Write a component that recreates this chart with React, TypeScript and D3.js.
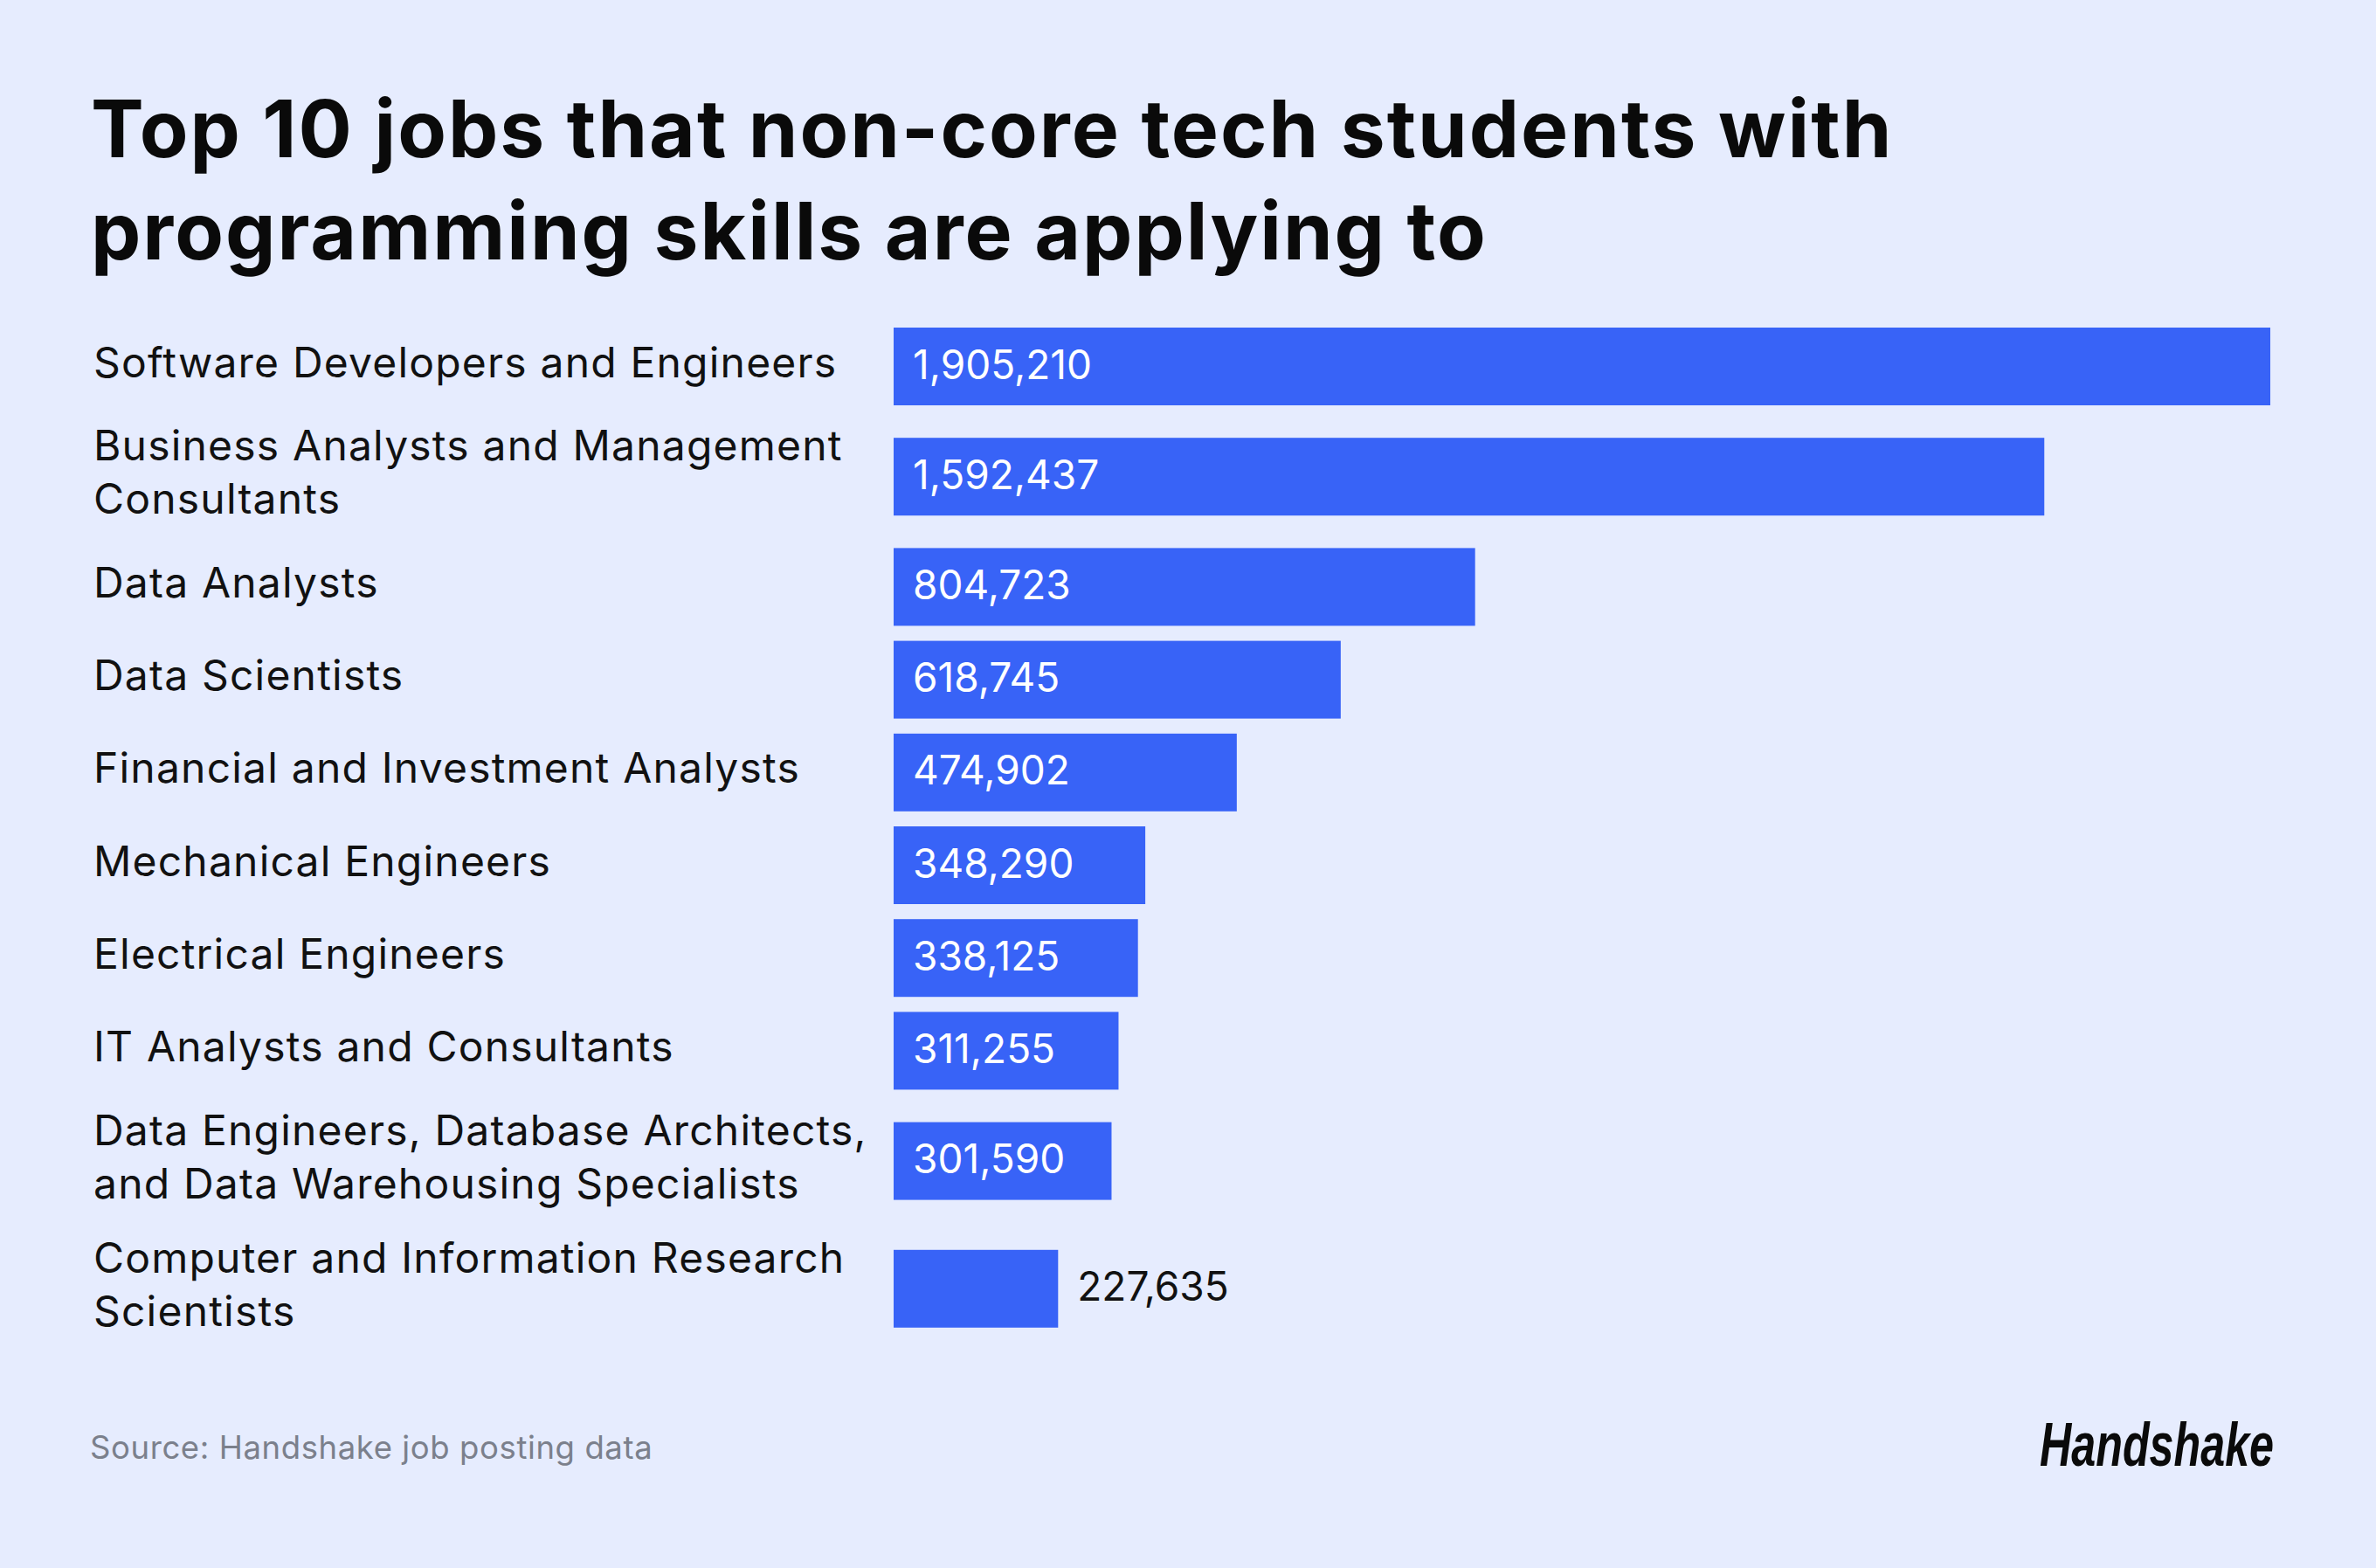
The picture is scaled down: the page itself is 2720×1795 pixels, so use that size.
import React from "react";
import * as d3 from "d3";

const categories: string[] = [
  "Software Developers and Engineers",
  "Business Analysts and Management\nConsultants",
  "Data Analysts",
  "Data Scientists",
  "Financial and Investment Analysts",
  "Mechanical Engineers",
  "Electrical Engineers",
  "IT Analysts and Consultants",
  "Data Engineers, Database Architects,\nand Data Warehousing Specialists",
  "Computer and Information Research\nScientists",
];
const values: number[] = [1905210, 1592437, 804723, 618745, 474902, 348290, 338125, 311255, 301590, 227635];

const titleLines: string[] = [
  "Top 10 jobs that non-core tech students with",
  "programming skills are applying to",
];
const sourceText = "Source: Handshake job posting data";
const logoText = "Handshake";

const W = 2720;
const H = 1795;
const BG = "#E6ECFE";
const BAR = "#3863F7";
const FONT = "Inter, 'Open Sans', 'Liberation Sans', sans-serif";

export default function App() {
  const barLeft = 1023;
  const barRight = 2599;
  const x = d3.scaleLinear().domain([0, d3.max(values) as number]).range([barLeft, barRight]);
  const barH = 89;
  const gap = 17.2;
  const extraPerLine = 40;
  const lineH = 61;
  const labelSize = 48;
  const valueSize = 46;

  const rows: { label: string[]; value: number; cy: number }[] = [];
  let top = 375;
  categories.forEach((c, i) => {
    const lines = c.split("\n");
    const h = barH + (lines.length - 1) * extraPerLine;
    rows.push({ label: lines, value: values[i], cy: top + h / 2 });
    top += h + gap;
  });

  const fmt = d3.format(",");

  return (
    <svg
      width={W}
      height={H}
      style={{ position: "absolute", left: 0, top: 0, display: "block" }}
      xmlns="http://www.w3.org/2000/svg"
    >
      <rect x={0} y={0} width={W} height={H} fill={BG} />
      {titleLines.map((t, i) => (
        <text
          key={i}
          x={104}
          y={180 + i * 117}
          fontFamily={FONT}
          fontWeight={700}
          fontSize={91}
          letterSpacing={2}
          fill="#0a0a0a"
        >
          {t}
        </text>
      ))}
      {rows.map((r, i) => {
        const w = x(r.value) - x(0);
        const inside = w > 240;
        const n = r.label.length;
        const baseY = r.cy + 12 - ((n - 1) * lineH) / 2;
        return (
          <g key={i}>
            {r.label.map((l, j) => (
              <text
                key={j}
                x={107}
                y={baseY + j * lineH}
                fontFamily={FONT}
                fontSize={labelSize}
                letterSpacing={1.2}
                fill="#111"
              >
                {l}
              </text>
            ))}
            <rect x={x(0)} y={r.cy - barH / 2} width={w} height={barH} fill={BAR} />
            <text
              x={inside ? x(0) + 22 : x(r.value) + 22}
              y={r.cy + 14}
              fontFamily={FONT}
              fontSize={valueSize}
              fill={inside ? "#ffffff" : "#111"}
            >
              {fmt(r.value)}
            </text>
          </g>
        );
      })}
      <text x={103} y={1670} fontFamily={FONT} fontSize={36.5} letterSpacing={0.6} fill="#7b808c">
        {sourceText}
      </text>
      <text
        x={2335}
        y={1678}
        fontFamily="'Liberation Sans Narrow', 'Liberation Sans', sans-serif"
        fontWeight={700}
        fontStyle="italic"
        fontSize={70}
        textLength={268}
        lengthAdjust="spacingAndGlyphs"
        fill="#0a0a0a"
      >
        {logoText}
      </text>
    </svg>
  );
}
